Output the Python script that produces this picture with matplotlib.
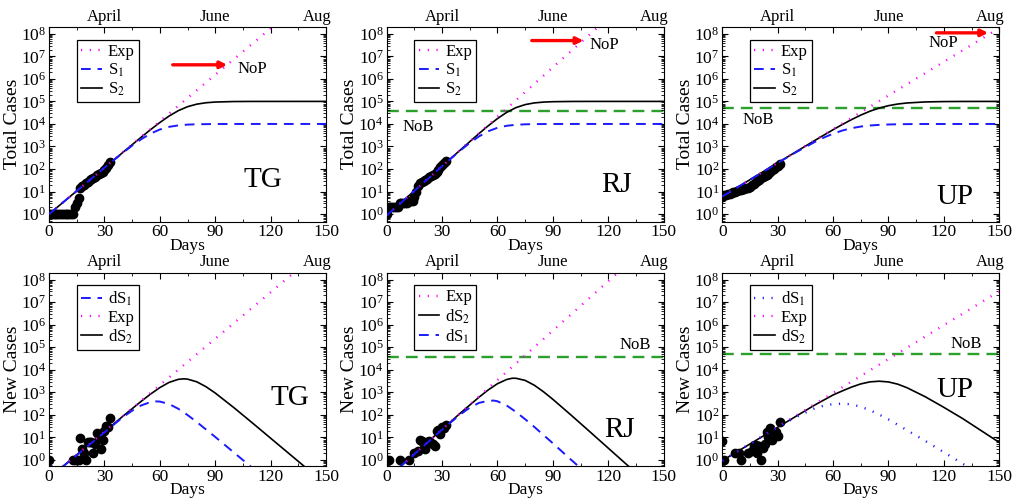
import matplotlib
matplotlib.use("Agg")
import matplotlib.pyplot as plt
from matplotlib.ticker import MultipleLocator, LogLocator, NullFormatter

plt.rcParams["font.family"] = ["Liberation Serif", "DejaVu Serif"]
plt.rcParams["mathtext.fontset"] = "stix"

# ---------------- observed data ----------------
tg_days = list(range(34))
tg_total = [1, 1, 1, 1, 1, 1, 1, 1, 1, 1, 1, 1, 1, 1, 2, 3, 5, 14, 17, 20,
            23, 27, 32, 36, 40, 45, 55, 62, 68, 75, 90, 110, 150, 200]
tg_new_days = [0, 13, 14, 15, 16, 17, 18, 19, 20, 21, 22, 23, 24, 25, 26,
               27, 28, 29, 30, 31, 32, 33]
tg_new = [1, 1, 1, 1, 1, 9, 3, 2, 1, 6, 6.5, 6, 2, 5, 15, 10, 3, 8, 20, 32,
          30, 75]

rj_days = list(range(33))
rj_total = [1, 2, 2, 2, 2, 2, 2, 3, 3, 3, 3, 3, 4, 4, 4, 6, 10, 17, 24, 27,
            30, 33, 38, 43, 48, 55, 60, 75, 95, 120, 150, 180, 220]
rj_new_days = [0, 1, 7, 12, 15, 17, 18, 19, 20, 21, 22, 23, 24, 25, 26, 27,
               28, 29, 30, 31, 32]
rj_new = [1, 1, 1, 1, 2, 2.5, 8, 7, 5, 3, 6, 7, 5.5, 5, 4, 19, 22, 14, 30,
          25, 37]

up_days = list(range(32))
up_total = [6, 7, 7, 8, 8, 9, 10, 10, 11, 12, 12, 13, 13, 14, 14, 16, 19, 22,
            26, 30, 34, 40, 45, 50, 55, 62, 75, 90, 105, 120, 140, 170]
up_new_days = [0, 1, 7, 9, 10, 14, 16, 17, 18, 19, 20, 21, 22, 23, 24, 25,
               26, 27, 28, 29, 30, 31]
up_new = [7, 1, 2, 2, 1, 2, 2.5, 4, 4.5, 2, 4, 1, 3.5, 5, 17, 10, 27, 8, 13,
          17, 12, 47]

# ---------------- model curves ----------------
tg_exp_days = [0, 125]
tg_exp_total = [1, 3.8e8]
tg_s2_days = [0, 30, 50, 55, 60, 65, 70, 75, 80, 85, 90, 100, 110, 150]
tg_s2 = [1, 114, 2620, 5600, 11550, 22340, 38800, 58260, 75470, 87140,
         93710, 98640, 99710, 100000]
tg_s1_days = [0, 30, 40, 45, 50, 55, 60, 65, 70, 75, 80, 90, 100, 150]
tg_s1 = [1, 114, 526, 1089, 2121, 3722, 5664, 7421, 8637, 9332, 9685, 9933,
         9990, 10000]
tg_exp_new_days = [0, 135]
tg_exp_new = [0.158, 2.9e8]
tg_ds2_days = [0, 40, 50, 55, 60, 65, 70, 73, 75, 80, 85, 90, 100, 110, 150]
tg_ds2 = [0.158, 86.7, 403, 835, 1614, 2742, 3752, 3950, 3843, 2925, 1770,
          931, 212, 44.8, 0.081]
tg_ds1_days = [0, 40, 45, 50, 55, 58, 60, 65, 70, 75, 80, 90, 100, 120]
tg_ds1 = [0.158, 78.8, 153, 264, 369, 395, 388, 302, 186, 98.5, 48.2, 10.5,
          2.18, 0.093]

rj_exp_days = [0, 120]
rj_exp_total = [0.87, 5e8]
rj_s2_days = [0, 30, 50, 55, 60, 65, 70, 75, 80, 85, 90, 100, 110, 150]
rj_s2 = [0.87, 135, 3744, 8270, 17282, 32626, 52875, 72222, 85766, 93316,
         97002, 99428, 99893, 100000]
rj_s1_days = [0, 30, 40, 45, 50, 55, 60, 65, 70, 75, 80, 90, 100, 150]
rj_s1 = [0.87, 133, 675, 1438, 2801, 4741, 6763, 8288, 9182, 9630, 9836,
         9969, 9994, 10000]
rj_exp_new_days = [0, 130]
rj_exp_new = [0.146, 4.5e8]
rj_ds2_days = [0, 40, 50, 55, 60, 65, 68, 70, 75, 80, 85, 90, 100, 110, 140]
rj_ds2 = [0.146, 121, 605, 1274, 2402, 3693, 4200, 4187, 3371, 2051, 1047,
          489, 95.5, 18, 0.116]
rj_ds1_days = [0, 30, 40, 45, 50, 55, 58, 60, 65, 70, 75, 80, 90, 100, 110]
rj_ds1 = [0.146, 22, 106, 207, 339, 419, 430, 400, 260, 135, 64, 29, 5.5,
          1.0, 0.19]

up_exp_days = [0, 150]
up_exp_total = [6.03, 1.78e8]
up_s2_days = [0, 30, 50, 60, 65, 70, 75, 80, 85, 90, 95, 100, 110, 120, 130,
              150]
up_s2 = [6.03, 188, 1828, 5537, 9420, 15577, 24662, 36739, 50749, 64643,
         76434, 85195, 94767, 98276, 99446, 99944]
up_s1_days = [0, 30, 40, 50, 55, 60, 65, 70, 75, 80, 85, 90, 100, 110, 150]
up_s1 = [6.03, 184.5, 559, 1570, 2483, 3695, 5098, 6485, 7660, 8531, 9115,
         9481, 9829, 9945, 10000]
up_exp_new_days = [0, 150]
up_exp_new = [0.93, 3.0e7]
up_ds2_days = [0, 30, 50, 60, 65, 70, 75, 80, 85, 90, 95, 100, 110, 120, 130,
               150]
up_ds2 = [0.93, 28, 270, 760, 1150, 1700, 2350, 2900, 3100, 2880, 2300, 1600,
          630, 215, 70, 6]
up_ds1_days = [0, 30, 40, 50, 55, 60, 65, 70, 75, 80, 85, 90, 100, 110, 120,
               130, 140]
up_ds1 = [0.93, 28, 80, 195, 255, 300, 315, 290, 230, 160, 103, 63, 21, 6.9,
          2.2, 0.7, 0.22]

rj_nob = 3.6e4
up_nob = 5.0e4

month_ticks = [30, 90, 145]
month_labels = ["April", "June", "Aug"]
decade_ticks = [1e0, 1e1, 1e2, 1e3, 1e4, 1e5, 1e6, 1e7, 1e8]

C_EXP = "#ff00ff"
C_S1 = "#1a1aff"
C_S2 = "black"
C_NOB = "#2ca02c"
DOTS = (0, (0.5, 3.2))
DASH = (0, (5, 3.5))

fig = plt.figure(figsize=(10.13, 4.98), dpi=100)
lefts = [0.0484, 0.3817, 0.713]
W = 0.2734


def setup(ax, ylabel, ylim):
    ax.set_yscale("log")
    ax.set_xlim(0, 150)
    ax.set_ylim(*ylim)
    ax.xaxis.set_major_locator(MultipleLocator(30))
    ax.xaxis.set_minor_locator(MultipleLocator(15))
    ax.set_yticks(decade_ticks)
    ax.yaxis.set_minor_locator(LogLocator(base=10, subs=range(2, 10), numticks=20))
    ax.yaxis.set_minor_formatter(NullFormatter())
    ax.tick_params(which="both", direction="in", top=True, right=True, labelsize=12.5)
    ax.tick_params(which="major", length=4, pad=2)
    ax.tick_params(which="minor", length=2)
    ax.set_xlabel("Days", fontsize=12.5, labelpad=-2)
    ax.set_ylabel(ylabel, fontsize=14, labelpad=0)
    # month names along the top edge
    for day, name in zip(month_ticks, month_labels):
        ax.text(day, 1.012, name, transform=ax.get_xaxis_transform(),
                ha="center", va="bottom", fontsize=12)


def legend(ax, handles, labels):
    lg = ax.legend(handles, labels, loc="upper left", bbox_to_anchor=(0.1, 0.935),
                   borderaxespad=0, fancybox=False, framealpha=1, edgecolor="black",
                   fontsize=12, handlelength=1.25, handletextpad=0.35,
                   labelspacing=0.1, borderpad=0.25)
    lg.get_frame().set_linewidth(0.9)


def dots(ax, x, y):
    ax.plot(x, y, "o", color="black", ms=6, zorder=1)


top_ylim = (0.47, 2.0e8)
bot_ylim = (0.54, 2.0e8)

# ---------------- top row: total cases ----------------
panels_top = [
    ("TG", tg_days, tg_total, tg_exp_days, tg_exp_total, tg_s1_days, tg_s1, tg_s2_days, tg_s2),
    ("RJ", rj_days, rj_total, rj_exp_days, rj_exp_total, rj_s1_days, rj_s1, rj_s2_days, rj_s2),
    ("UP", up_days, up_total, up_exp_days, up_exp_total, up_s1_days, up_s1, up_s2_days, up_s2),
]
tag_pos_top = [(116, 32), (124.5, 19.5), (126, 5.9)]
nop_arrows = [(67, 96.5, 4.2e6), (78.6, 106.6, 5.0e7), (116, 144, 1.1e8)]
nop_text = [(110, 2.7e6), (118, 3.2e7), (119.7, 3.9e7)]
nob_top = [None, rj_nob, up_nob]
nob_text_top = [None, (17, 7.6e3), (19.5, 1.5e4)]

for i, (tag, d, v, ed, ev, s1d, s1, s2d, s2) in enumerate(panels_top):
    ax = fig.add_axes([lefts[i], 0.5552, W, 0.3906])
    setup(ax, "Total Cases", top_ylim)
    dots(ax, d, v)
    l2, = ax.plot(s2d, s2, color=C_S2, lw=1.2, zorder=2)
    l1, = ax.plot(s1d, s1, color=C_S1, lw=1.4, ls=DASH, zorder=3)
    le, = ax.plot(ed, ev, color=C_EXP, lw=1.7, ls=DOTS, zorder=2.5)
    if nob_top[i] is not None:
        ax.axhline(nob_top[i], color=C_NOB, lw=1.7, ls=(0, (5, 3)), zorder=1.5)
        ax.text(*nob_text_top[i], "NoB", fontsize=12, ha="center", va="center")
    x0, x1, yv = nop_arrows[i]
    ax.annotate("", xy=(x1, yv), xytext=(x0, yv),
                arrowprops=dict(arrowstyle="-|>", color="red", lw=2.4,
                                mutation_scale=10, shrinkA=0, shrinkB=0))
    ax.text(*nop_text[i], "NoP", fontsize=12, ha="center", va="center")
    ax.text(*tag_pos_top[i], tag, fontsize=21, ha="center", va="center")
    legend(ax, [le, l1, l2], ["Exp", "S$_1$", "S$_2$"])

# ---------------- bottom row: new cases ----------------
panels_bot = [
    ("TG", tg_new_days, tg_new, tg_exp_new_days, tg_exp_new, tg_ds1_days, tg_ds1, tg_ds2_days, tg_ds2),
    ("RJ", rj_new_days, rj_new, rj_exp_new_days, rj_exp_new, rj_ds1_days, rj_ds1, rj_ds2_days, rj_ds2),
    ("UP", up_new_days, up_new, up_exp_new_days, up_exp_new, up_ds1_days, up_ds1, up_ds2_days, up_ds2),
]
tag_pos_bot = [(130.5, 560), (126.3, 22), (126, 1300)]
nob_bot = [None, rj_nob, up_nob]
nob_text_bot = [None, (134.6, 1.3e5), (132.3, 1.4e5)]

for i, (tag, d, v, ed, ev, s1d, s1, s2d, s2) in enumerate(panels_bot):
    ax = fig.add_axes([lefts[i], 0.0643, W, 0.388])
    setup(ax, "New Cases", bot_ylim)
    dots(ax, d, v)
    l2, = ax.plot(s2d, s2, color=C_S2, lw=1.2, zorder=2)
    if tag == "UP":
        l1, = ax.plot(s1d, s1, color=C_S1, lw=1.7, ls=DOTS, zorder=3)
    else:
        l1, = ax.plot(s1d, s1, color=C_S1, lw=1.4, ls=DASH, zorder=3)
    le, = ax.plot(ed, ev, color=C_EXP, lw=1.7, ls=DOTS, zorder=2.5)
    if nob_bot[i] is not None:
        ax.axhline(nob_bot[i], color=C_NOB, lw=1.7, ls=(0, (5, 3)), zorder=1.5)
        ax.text(*nob_text_bot[i], "NoB", fontsize=12, ha="center", va="center")
    ax.text(*tag_pos_bot[i], tag, fontsize=21, ha="center", va="center")
    if tag == "RJ":
        legend(ax, [le, l2, l1], ["Exp", "dS$_2$", "dS$_1$"])
    else:
        legend(ax, [l1, le, l2], ["dS$_1$", "Exp", "dS$_2$"])

fig.savefig("out.png", dpi=100)
